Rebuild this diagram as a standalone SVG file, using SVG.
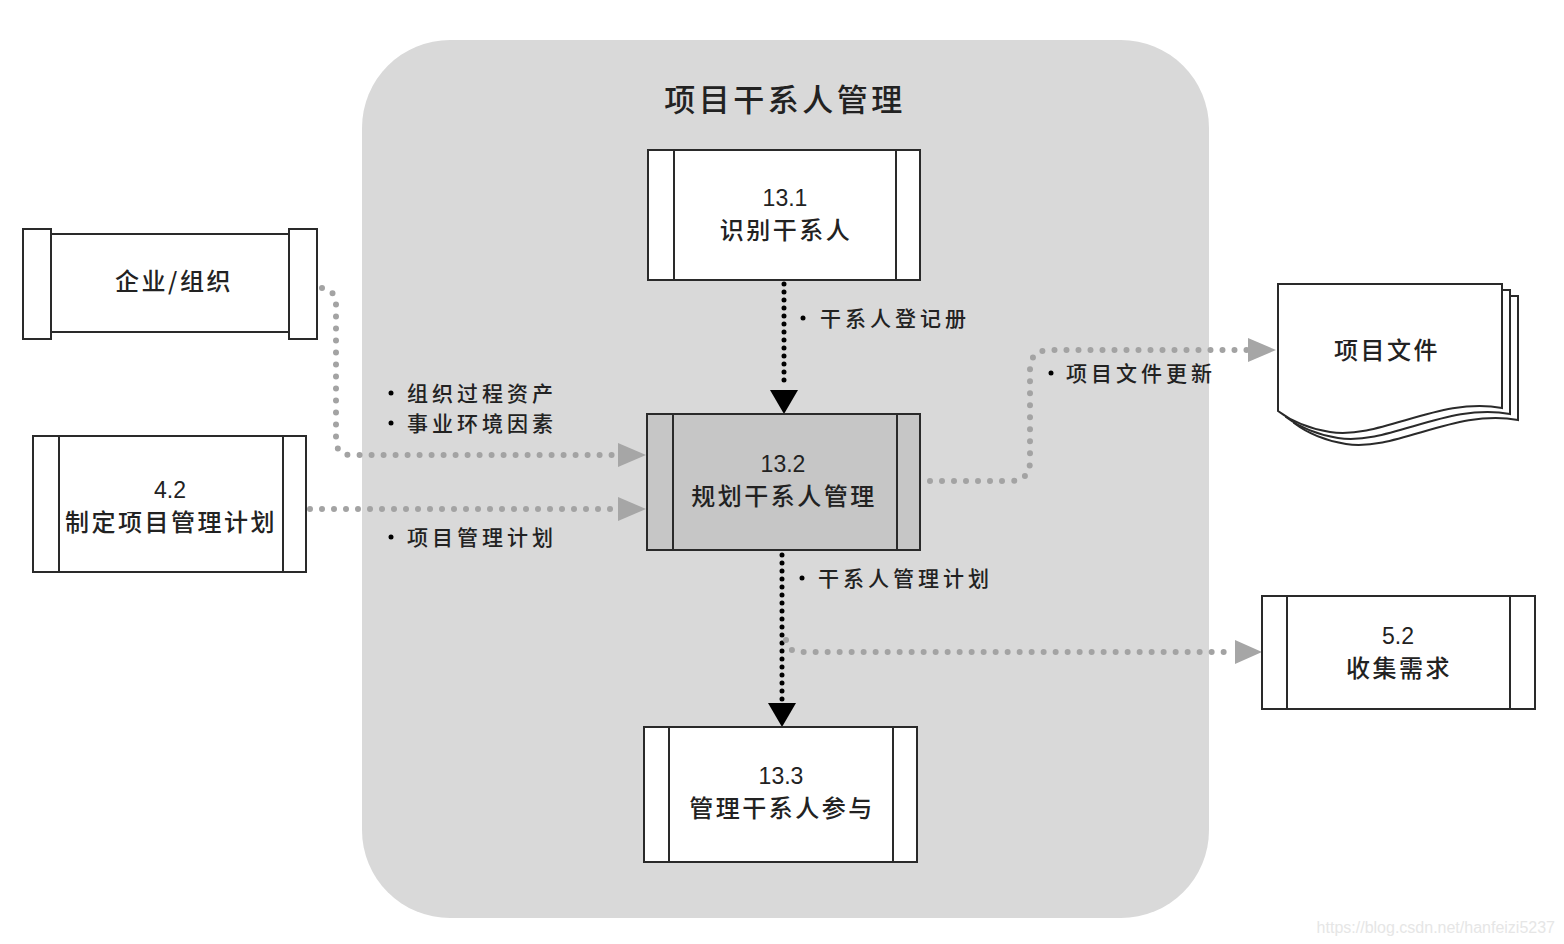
<svg xmlns="http://www.w3.org/2000/svg" width="1564" height="944" viewBox="0 0 1564 944">
<defs>
<style>
.t{font-family:"Noto Sans CJK SC","Liberation Sans",sans-serif;fill:#222;text-anchor:middle;font-weight:500}
.n{font-size:24px;letter-spacing:2.5px}
.d{font-family:"Liberation Sans","Noto Sans CJK SC",sans-serif;fill:#222;text-anchor:middle;font-size:23px}
.l{font-family:"Noto Sans CJK SC","Liberation Sans",sans-serif;fill:#222;font-size:21px;letter-spacing:4px;font-weight:500}
.box{fill:#fff;stroke:#2a2a2a;stroke-width:2}
.in{stroke:#2a2a2a;stroke-width:2}
.gd{fill:none;stroke:#a3a3a3;stroke-width:6;stroke-linecap:round;stroke-dasharray:0 12}
.bd{fill:none;stroke:#000;stroke-width:5;stroke-linecap:round;stroke-dasharray:0 8}
.gh{fill:#a6a6a6}
.bh{fill:#000}
.dot{fill:#000}
</style>
</defs>
<rect width="1564" height="944" fill="#fff"/>
<g id="group-bg">
<rect x="362" y="40" width="847" height="878" rx="88" ry="88" fill="#d9d9d9"/>
<text class="t" x="785" y="111" font-size="31" letter-spacing="3.5">项目干系人管理</text>
</g>

<g id="connectors">
<path class="gd" d="M322,288 Q336,290 336,305 L336,440 Q336,455 352,455 L618,455"/>
<polygon class="gh" points="618,443 646,455 618,467"/>
<path class="gd" d="M310,509 L618,509"/>
<polygon class="gh" points="618,497 646,509 618,521"/>
<path class="bd" d="M784,284 L784,388"/>
<polygon class="bh" points="770,390 798,390 784,414"/>
<path class="gd" d="M930,481 L1010,481 Q1030,481 1030,461 L1030,370 Q1030,350 1050,350 L1248,350"/>
<polygon class="gh" points="1248,338 1276,350 1248,362"/>
<path class="bd" d="M782,555 L782,701"/>
<polygon class="bh" points="768,703 796,703 782,727"/>
<path class="gd" d="M786,640 Q788,652 800,652 L1235,652"/>
<polygon class="gh" points="1235,640 1262,652 1235,664"/>
<circle class="dot" cx="391" cy="393" r="2.5"/>
<text class="l" x="407" y="401">组织过程资产</text>
<circle class="dot" cx="391" cy="423" r="2.5"/>
<text class="l" x="407" y="431">事业环境因素</text>
<circle class="dot" cx="391" cy="537" r="2.5"/>
<text class="l" x="407" y="545">项目管理计划</text>
<circle class="dot" cx="803" cy="318" r="2.5"/>
<text class="l" x="820" y="326">干系人登记册</text>
<circle class="dot" cx="1051" cy="373" r="2.5"/>
<text class="l" x="1066" y="381">项目文件更新</text>
<circle class="dot" cx="802" cy="578" r="2.5"/>
<text class="l" x="818" y="586">干系人管理计划</text>
</g>

<g id="node-org">
<rect class="box" x="51" y="234" width="238" height="98"/>
<rect class="box" x="23" y="229" width="28" height="110"/>
<rect class="box" x="289" y="229" width="28" height="110"/>
<text class="t n" x="174" y="290">企业/组织</text>
</g>

<g id="node-4-2">
<rect class="box" x="33" y="436" width="273" height="136"/>
<line class="in" x1="59" y1="436" x2="59" y2="572"/>
<line class="in" x1="283" y1="436" x2="283" y2="572"/>
<text class="d" x="170" y="498">4.2</text>
<text class="t n" x="171" y="531">制定项目管理计划</text>
</g>

<g id="node-13-1">
<rect class="box" x="648" y="150" width="272" height="130"/>
<line class="in" x1="674" y1="150" x2="674" y2="280"/>
<line class="in" x1="896" y1="150" x2="896" y2="280"/>
<text class="d" x="785" y="206">13.1</text>
<text class="t n" x="786" y="239">识别干系人</text>
</g>

<g id="node-13-2">
<rect class="box" x="647" y="414" width="273" height="136" style="fill:#c6c6c6"/>
<line class="in" x1="673" y1="414" x2="673" y2="550"/>
<line class="in" x1="897" y1="414" x2="897" y2="550"/>
<text class="d" x="783" y="472">13.2</text>
<text class="t n" x="784" y="505">规划干系人管理</text>
</g>

<g id="node-13-3">
<rect class="box" x="644" y="727" width="273" height="135"/>
<line class="in" x1="669" y1="727" x2="669" y2="862"/>
<line class="in" x1="893" y1="727" x2="893" y2="862"/>
<text class="d" x="781" y="784">13.3</text>
<text class="t n" x="782" y="817">管理干系人参与</text>
</g>

<g id="node-5-2">
<rect class="box" x="1262" y="596" width="273" height="113"/>
<line class="in" x1="1287" y1="596" x2="1287" y2="709"/>
<line class="in" x1="1510" y1="596" x2="1510" y2="709"/>
<text class="d" x="1398" y="644">5.2</text>
<text class="t n" x="1399" y="677">收集需求</text>
</g>

<g id="node-docs">
<path class="box" d="M1294,296 L1518,296 L1518,420 C1456,408 1396,452 1346,444 C1321,440 1306,432 1294,423 Z"/>
<path class="box" d="M1286,290 L1510,290 L1510,414 C1448,402 1388,446 1338,438 C1313,434 1298,426 1286,417 Z"/>
<path class="box" d="M1278,284 L1502,284 L1502,408 C1440,396 1380,440 1330,432 C1305,428 1290,420 1278,411 Z"/>
<text class="t n" x="1387" y="359">项目文件</text>
</g>

<text x="1555" y="933" font-family="Liberation Sans, sans-serif" font-size="16" fill="#e6e6e6" text-anchor="end">https://blog.csdn.net/hanfeizi5237</text>
</svg>
